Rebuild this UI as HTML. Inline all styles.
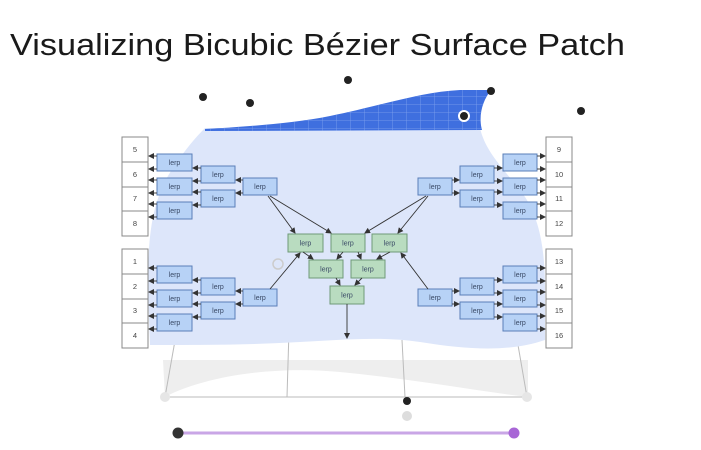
<!DOCTYPE html>
<html><head><meta charset="utf-8"><style>
html,body{margin:0;padding:0;background:#fff;width:701px;height:450px;overflow:hidden}
svg{display:block}
text{font-family:"Liberation Sans",sans-serif}
</style></head><body>
<svg width="701" height="450" viewBox="0 0 701 450" xmlns="http://www.w3.org/2000/svg">
<defs>
<marker id="a" markerWidth="6" markerHeight="6" refX="5" refY="3" orient="auto" markerUnits="userSpaceOnUse"><path d="M0,0 L6,3 L0,6 z" fill="#333"/></marker>
<pattern id="g" width="14" height="8" patternUnits="userSpaceOnUse"><path d="M0,0H14M0,0V8" stroke="#7fa2ee" stroke-width="0.8" fill="none"/></pattern>
</defs>
<text x="10" y="55" font-size="31" fill="#1a1a1a" textLength="615" lengthAdjust="spacingAndGlyphs">Visualizing Bicubic Bézier Surface Patch</text>
<path d="M163,360 H528 V397 C470,390 420,380 340,372 C270,365 200,378 165,397 Z" fill="#eeeeee"/>
<line x1="165" y1="397" x2="527" y2="397" stroke="#bbb"/>
<line x1="176" y1="335" x2="165" y2="397" stroke="#bbb"/>
<line x1="289" y1="330" x2="287" y2="397" stroke="#bbb"/>
<line x1="402" y1="340" x2="405" y2="397" stroke="#bbb"/>
<line x1="518" y1="345" x2="527" y2="397" stroke="#bbb"/>
<path d="M205,128 L480,128 C485,150 500,165 520,190 C540,215 545,250 545,290 L545,340 C510,352 470,350 420,342 C380,336 340,340 300,342 C250,345 200,345 150,345 L148,290 C148,240 150,200 175,165 C185,150 195,138 205,128 Z" fill="#dde6fa"/>
<path d="M205,129 C240,127 290,124 330,116 C380,106 420,92 460,90 L491,90 C483,100 478,115 482,130 L205,131 Z" fill="#3f6fdf"/>
<path d="M205,129 C240,127 290,124 330,116 C380,106 420,92 460,90 L491,90 C483,100 478,115 482,130 L205,131 Z" fill="url(#g)"/>
<g fill="#222">
<circle cx="203" cy="97" r="4"/><circle cx="250" cy="103" r="4"/><circle cx="348" cy="80" r="4"/><circle cx="491" cy="91" r="4"/><circle cx="581" cy="111" r="4"/><circle cx="407" cy="401" r="4"/>
</g>
<circle cx="464" cy="116" r="5" fill="#222" stroke="#fff" stroke-width="2"/>
<circle cx="407" cy="416" r="5" fill="#ddd"/>
<circle cx="278" cy="264" r="5" fill="none" stroke="#ccc" stroke-width="1.5"/>
<circle cx="165" cy="397" r="5" fill="#e6e6e6"/><circle cx="527" cy="397" r="5" fill="#e6e6e6"/>
<line x1="178" y1="433" x2="514" y2="433" stroke="#c9a6e6" stroke-width="3"/>
<circle cx="178" cy="433" r="5.5" fill="#333"/><circle cx="514" cy="433" r="5.5" fill="#a866d6"/>
<g fill="#fff" stroke="#888">
<rect x="122" y="137" width="26" height="99"/><rect x="122" y="249" width="26" height="99"/>
<rect x="546" y="137" width="26" height="99"/><rect x="546" y="249" width="26" height="99"/>
<path d="M122,162H148M122,187H148M122,211H148M122,274H148M122,299H148M122,323H148M546,162H572M546,187H572M546,211H572M546,274H572M546,299H572M546,323H572" fill="none"/>
</g>
<g font-size="7.5" fill="#444" text-anchor="middle">
<text x="135" y="152">5</text><text x="135" y="177">6</text><text x="135" y="201">7</text><text x="135" y="226">8</text>
<text x="135" y="264">1</text><text x="135" y="289">2</text><text x="135" y="313">3</text><text x="135" y="338">4</text>
<text x="559" y="152">9</text><text x="559" y="177">10</text><text x="559" y="201">11</text><text x="559" y="226">12</text>
<text x="559" y="264">13</text><text x="559" y="289">14</text><text x="559" y="313">15</text><text x="559" y="338">16</text>
</g>
<g stroke="#5a7fb8" stroke-width="1" fill="#b7d2f6">
<rect x="157" y="154" width="35" height="17"/><rect x="157" y="178" width="35" height="17"/><rect x="157" y="202" width="35" height="17"/>
<rect x="157" y="266" width="35" height="17"/><rect x="157" y="290" width="35" height="17"/><rect x="157" y="314" width="35" height="17"/>
<rect x="201" y="166" width="34" height="17"/><rect x="201" y="190" width="34" height="17"/><rect x="201" y="278" width="34" height="17"/><rect x="201" y="302" width="34" height="17"/>
<rect x="243" y="178" width="34" height="17"/><rect x="243" y="289" width="34" height="17"/>
<rect x="503" y="154" width="34" height="17"/><rect x="503" y="178" width="34" height="17"/><rect x="503" y="202" width="34" height="17"/>
<rect x="503" y="266" width="34" height="17"/><rect x="503" y="290" width="34" height="17"/><rect x="503" y="314" width="34" height="17"/>
<rect x="460" y="166" width="34" height="17"/><rect x="460" y="190" width="34" height="17"/><rect x="460" y="278" width="34" height="17"/><rect x="460" y="302" width="34" height="17"/>
<rect x="418" y="178" width="34" height="17"/><rect x="418" y="289" width="34" height="17"/>
</g>
<g stroke="#6f9a78" stroke-width="1" fill="#b9dcc0">
<rect x="288" y="234" width="35" height="18"/><rect x="331" y="234" width="34" height="18"/><rect x="372" y="234" width="35" height="18"/>
<rect x="309" y="260" width="34" height="18"/><rect x="351" y="260" width="34" height="18"/>
<rect x="330" y="286" width="34" height="18"/>
</g>
<g stroke="#333" stroke-width="0.9" fill="none" marker-end="url(#a)">
<path d="M157,156H149"/><path d="M157,169H149"/><path d="M157,180H149"/><path d="M157,193H149"/><path d="M157,204H149"/><path d="M157,217H149"/>
<path d="M157,268H149"/><path d="M157,281H149"/><path d="M157,292H149"/><path d="M157,305H149"/><path d="M157,316H149"/><path d="M157,329H149"/>
<path d="M201,168H193"/><path d="M201,181H193"/><path d="M201,192H193"/><path d="M201,205H193"/><path d="M201,280H193"/><path d="M201,293H193"/><path d="M201,304H193"/><path d="M201,317H193"/>
<path d="M243,180H236"/><path d="M243,193H236"/><path d="M243,291H236"/><path d="M243,304H236"/>
<path d="M537,156H545"/><path d="M537,169H545"/><path d="M537,180H545"/><path d="M537,193H545"/><path d="M537,204H545"/><path d="M537,217H545"/>
<path d="M537,268H545"/><path d="M537,281H545"/><path d="M537,292H545"/><path d="M537,305H545"/><path d="M537,316H545"/><path d="M537,329H545"/>
<path d="M494,168H502"/><path d="M494,181H502"/><path d="M494,192H502"/><path d="M494,205H502"/><path d="M494,280H502"/><path d="M494,293H502"/><path d="M494,304H502"/><path d="M494,317H502"/>
<path d="M452,180H459"/><path d="M452,193H459"/><path d="M452,291H459"/><path d="M452,304H459"/>
<path d="M268,196L295,233"/><path d="M270,196L331,233"/><path d="M426,196L365,233"/><path d="M428,196L398,233"/><path d="M270,289L300,253"/><path d="M428,289L401,253"/>
<path d="M303,252L313,259"/><path d="M343,252L337,259"/><path d="M358,252L361,259"/><path d="M390,252L377,259"/><path d="M336,278L340,285"/><path d="M362,278L355,285"/><path d="M347,304V338"/>
</g>
<g font-size="7" fill="#3a4a66" text-anchor="middle">
<text x="174.5" y="165">lerp</text><text x="174.5" y="189">lerp</text><text x="174.5" y="213">lerp</text>
<text x="174.5" y="277">lerp</text><text x="174.5" y="301">lerp</text><text x="174.5" y="325">lerp</text>
<text x="218" y="177">lerp</text><text x="218" y="201">lerp</text><text x="218" y="289">lerp</text><text x="218" y="313">lerp</text>
<text x="260" y="189">lerp</text><text x="260" y="300">lerp</text>
<text x="520" y="165">lerp</text><text x="520" y="189">lerp</text><text x="520" y="213">lerp</text>
<text x="520" y="277">lerp</text><text x="520" y="301">lerp</text><text x="520" y="325">lerp</text>
<text x="477" y="177">lerp</text><text x="477" y="201">lerp</text><text x="477" y="289">lerp</text><text x="477" y="313">lerp</text>
<text x="435" y="189">lerp</text><text x="435" y="300">lerp</text>
<text x="305.5" y="245.5">lerp</text><text x="348" y="245.5">lerp</text><text x="389.5" y="245.5">lerp</text>
<text x="326" y="271.5">lerp</text><text x="368" y="271.5">lerp</text><text x="347" y="297.5">lerp</text>
</g>
</svg>
</body></html>
